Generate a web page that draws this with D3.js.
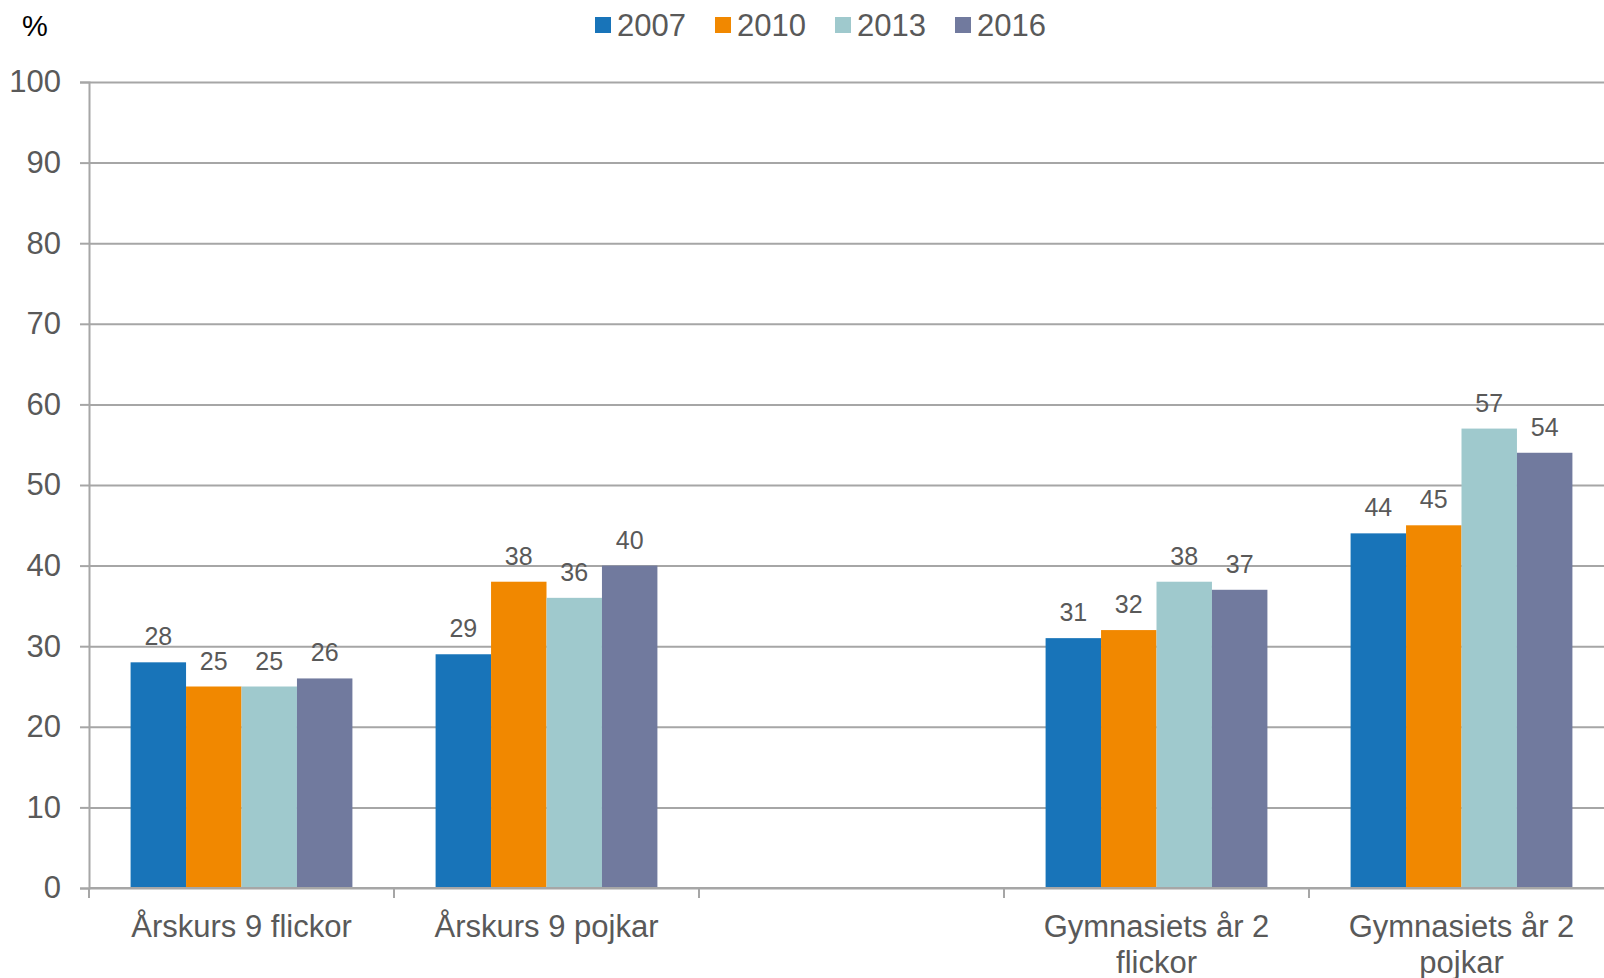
<!DOCTYPE html>
<html>
<head>
<meta charset="utf-8">
<script src="https://cdnjs.cloudflare.com/ajax/libs/d3/7.8.5/d3.min.js"></script>
<style>
  body { margin: 0; background: #fff; }
  text { font-family: "Liberation Sans", Arial, sans-serif; }
</style>
</head>
<body>
<div id="chart"></div>
<script>
let categories = ["Årskurs 9 flickor", "Årskurs 9 pojkar", "", "Gymnasiets år 2 flickor", "Gymnasiets år 2 pojkar"];
let years = ["2007", "2010", "2013", "2016"];
let values2007 = [28, 29, null, 31, 44];
let values2010 = [25, 38, null, 32, 45];
let values2013 = [25, 36, null, 38, 57];
let values2016 = [26, 40, null, 37, 54];
let yTicks = [0, 10, 20, 30, 40, 50, 60, 70, 80, 90, 100];
let colors = ["#1874b9", "#f18800", "#9fc9cd", "#717a9e"];

let margin = {top: 82, left: 89, bottom: 90};
let width = 1604, height = 978;
let slot = 305;
let plot_height = height - margin.top - margin.bottom;

// build rows for grouped bars
let seriesValues = [values2007, values2010, values2013, values2016];
let data = categories.map(function(c, i) {
  let row = {cat: c};
  years.forEach(function(y, j) { row[y] = seriesValues[j][i]; });
  return row;
});

let svg = d3.select("#chart")
            .append("svg")
            .attr("width", width)
            .attr("height", height)
            .append("g")
            .attr("transform", "translate(" + margin.left + "," + margin.top + ")");

let x0 = d3.scaleBand()
           .domain(categories)
           .range([0, slot * categories.length])
           .padding(0);

let x1 = d3.scaleBand()
           .domain(years)
           .range([0, x0.bandwidth()])
           .paddingInner(0)
           .paddingOuter(0.75);

let y = d3.scaleLinear()
          .domain([0, 100])
          .range([plot_height, 0]);

let color = d3.scaleOrdinal()
              .domain(years)
              .range(colors);

// gridlines
svg.append("g")
   .attr("class", "grid")
   .call(d3.axisLeft(y).tickValues(yTicks).tickSize(-x0.range()[1]).tickFormat(""))
   .call(g => g.select(".domain").remove())
   .selectAll("line")
   .attr("stroke", "#a6a6a6")
   .attr("stroke-width", 2);

// y axis
let yAxis = svg.append("g")
   .call(d3.axisLeft(y).tickValues(yTicks).tickSize(9).tickPadding(19));
yAxis.select(".domain").attr("stroke", "#a6a6a6").attr("stroke-width", 2);
yAxis.selectAll(".tick line").attr("stroke", "#a6a6a6").attr("stroke-width", 2);
yAxis.selectAll(".tick text")
     .attr("fill", "#595959")
     .style("font-size", "31px");

// bars
let groups = svg.append("g")
  .selectAll("g")
  .data(data)
  .enter().append("g")
    .attr("transform", function(d) { return "translate(" + x0(d.cat) + ",0)"; });

groups.selectAll("rect")
  .data(function(d) { return years.filter(k => d[k] != null).map(k => ({key: k, value: d[k]})); })
  .enter().append("rect")
    .attr("x", function(d) { return x1(d.key); })
    .attr("y", function(d) { return y(d.value); })
    .attr("width", x1.bandwidth())
    .attr("height", function(d) { return y(0) - y(d.value); })
    .attr("fill", function(d) { return color(d.key); });

groups.selectAll("text")
  .data(function(d) { return years.filter(k => d[k] != null).map(k => ({key: k, value: d[k]})); })
  .enter().append("text")
    .attr("x", function(d) { return x1(d.key) + x1.bandwidth() / 2; })
    .attr("y", function(d) { return y(d.value) - 17; })
    .attr("text-anchor", "middle")
    .attr("fill", "#595959")
    .style("font-size", "25px")
    .text(function(d) { return d.value; });

// x axis line and boundary ticks
svg.append("line")
   .attr("x1", 0)
   .attr("x2", x0.range()[1])
   .attr("y1", y(0))
   .attr("y2", y(0))
   .attr("stroke", "#a6a6a6")
   .attr("stroke-width", 2);

let bounds = categories.map(c => x0(c)).concat([x0.range()[1]]);
svg.append("g")
   .selectAll("line")
   .data(bounds)
   .enter().append("line")
     .attr("x1", d => d)
     .attr("x2", d => d)
     .attr("y1", y(0))
     .attr("y2", y(0) + 10)
     .attr("stroke", "#a6a6a6")
     .attr("stroke-width", 2);

// category labels, wrapped
let labels = svg.append("g")
  .selectAll("text")
  .data(categories)
  .enter().append("text")
    .attr("x", d => x0(d) + x0.bandwidth() / 2)
    .attr("y", y(0) + 49)
    .attr("text-anchor", "middle")
    .attr("fill", "#595959")
    .style("font-size", "31px");

labels.each(function(d) {
  let el = d3.select(this);
  let words = d.split(" ");
  let line = [];
  let lineNo = 0;
  let tspan = el.append("tspan").attr("x", el.attr("x")).attr("dy", 0);
  words.forEach(function(w) {
    line.push(w);
    tspan.text(line.join(" "));
    if (tspan.node().getComputedTextLength() > 280 && line.length > 1) {
      line.pop();
      tspan.text(line.join(" "));
      line = [w];
      lineNo++;
      tspan = el.append("tspan").attr("x", el.attr("x")).attr("dy", 36).text(w);
    }
  });
});

// "%" label
d3.select("#chart svg").append("text")
  .attr("x", 22)
  .attr("y", 36)
  .attr("fill", "#000")
  .style("font-size", "29px")
  .text("%");

// legend
let legend = d3.select("#chart svg").selectAll(".legend")
               .data(years)
               .enter().append("g")
               .attr("class", "legend")
               .attr("transform", function(d, i) { return "translate(" + (595 + i * 120) + ",17)"; });

legend.append("rect")
      .attr("width", 16)
      .attr("height", 16)
      .attr("fill", d => color(d));

legend.append("text")
      .attr("x", 22)
      .attr("y", 8)
      .attr("dy", ".36em")
      .attr("fill", "#595959")
      .style("font-size", "31px")
      .text(d => d);
</script>
</body>
</html>
